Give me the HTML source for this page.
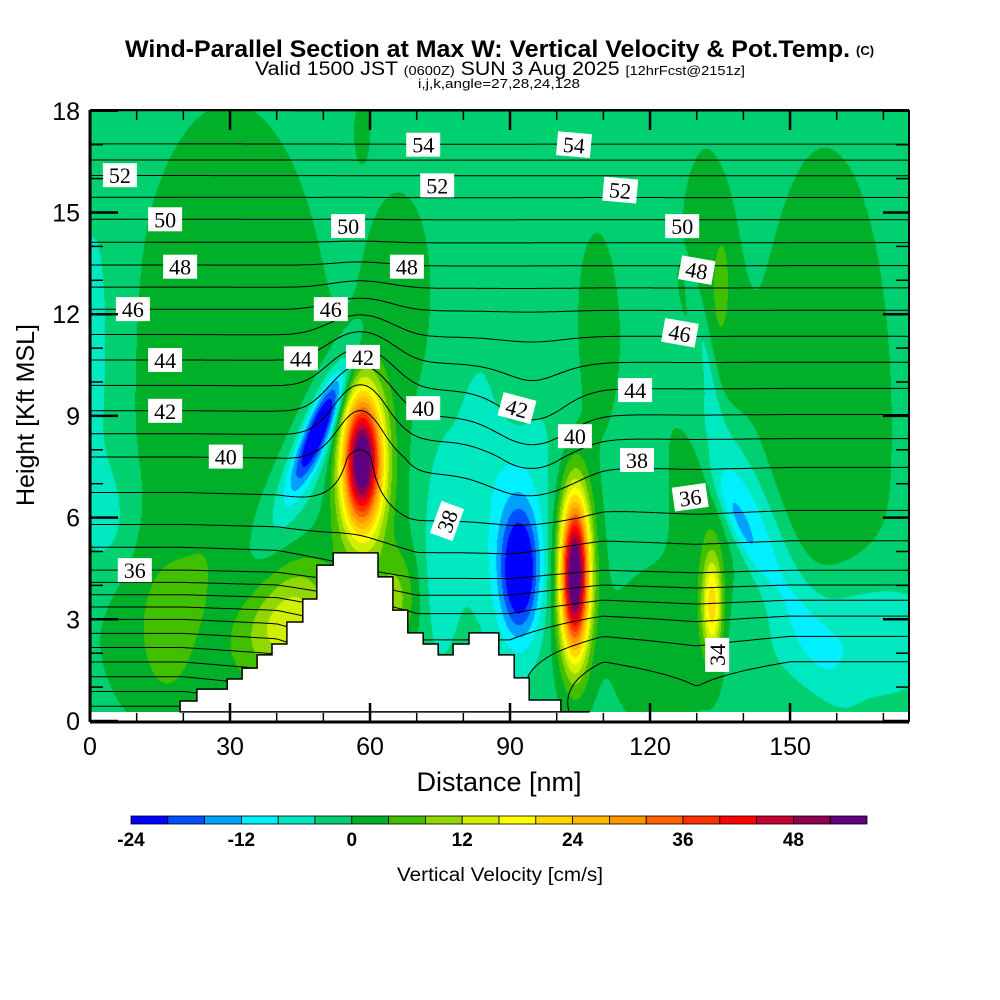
<!DOCTYPE html>
<html><head><meta charset="utf-8">
<style>
html,body{margin:0;padding:0;background:#fff;}
#wrap{position:relative;width:1000px;height:1000px;overflow:hidden;background:#fff;}
#field{position:absolute;left:90px;top:110px;}
#ov{position:absolute;left:0;top:0;}
text{font-family:"Liberation Sans",sans-serif;}
</style></head>
<body>
<div id="wrap">
<canvas id="field" width="819" height="602"></canvas>
<svg id="ov" width="1000" height="1000" xmlns="http://www.w3.org/2000/svg">
<defs><clipPath id="pc"><rect x="90" y="110" width="819" height="602"/></clipPath></defs>
<g id="contours" clip-path="url(#pc)"></g>
<path id="terrain" fill="#fff" stroke="#000" stroke-width="1.5"/>
<g id="clabels"></g>
<g id="axes"></g>
<g>
<text x="125" y="57" font-size="24" font-weight="bold" textLength="725" lengthAdjust="spacingAndGlyphs">Wind-Parallel Section at Max W: Vertical Velocity &amp; Pot.Temp.</text>
<text x="856" y="55" font-size="13" font-weight="bold">(C)</text>
<text x="255" y="75" font-size="19" textLength="490" lengthAdjust="spacingAndGlyphs">Valid 1500 JST <tspan font-size="13">(0600Z)</tspan> SUN 3 Aug 2025 <tspan font-size="13">[12hrFcst@2151z]</tspan></text>
<text x="418" y="88" font-size="13" textLength="162" lengthAdjust="spacingAndGlyphs">i,j,k,angle=27,28,24,128</text>
</g>
<text x="499" y="791" text-anchor="middle" font-size="27">Distance [nm]</text>
<text x="0" y="0" text-anchor="middle" font-size="25" transform="translate(34,415) rotate(-90)">Height [Kft MSL]</text>
<g id="cbar"></g>
<text x="397" y="881" font-size="19" textLength="206" lengthAdjust="spacingAndGlyphs">Vertical Velocity [cm/s]</text>
</svg>
</div>
<script>
// ---- data ----
const colorLevels=[-24,-20,-16,-12,-8,-4,0,4,8,12,16,20,24,28,32,36,40,44,48,52,56];
const colorList=["#0000ff","#0050ff","#00a0ff","#00f0ff","#00e8c0","#00d070","#00b028","#40c000","#90d800","#d0f000","#ffff00","#ffd800","#ffb800","#ff9800","#ff6000","#ff3000","#ff0000","#c80030","#900050","#600080"];
const cbarTicks=[-24,-12,0,12,24,36,48];
const xTicks=[0,30,60,90,120,150];
const yTicks=[0,3,6,9,12,15,18];
const bgValue=-1.5;
// vertical velocity features (nm, kft, sigma along px, sigma across px, angle deg, cm/s)
const blobX  =[30,1.1,66.4,58.3,91.1,108.9,131.8,135.4,157.5,23.6,16.1,4.3,42.9,49.3,58.3,58.9,45,38.6,65.4,75,88.9,92.1,103.9,103.9,133.3,140.3,138.8,131.8,162.8,120];
const blobZ  =[9.47,10.9,12.4,17.4,9.9,11.5,8.9,13.0,8.6,3.0,2.4,5.9,6.5,8.7,7.7,7.1,3.27,2.4,3.57,4.75,6.8,4.4,4.3,4.3,3.4,6.6,5.9,10.9,2.4,2.1];
const blobSA =[70,18,22,5,15,15,25,6,45,80,15,20,90,45,14,26,25,20,15,12,40,14,10,20,7,120,40,50,60,25];
const blobSB =[200,150,70,20,35,70,180,35,190,70,40,40,22,9,48,70,35,30,35,70,110,45,55,75,35,16,8,6,45,50];
const blobAng=[0,0,0,0,0,0,0,0,0,0,0,0,-62,-67,0,0,0,0,0,0,0,0,0,0,0,65,65,80,0,0];
const blobAmp=[4.5,-4,4.5,4,4.5,4.5,4.5,5,4.5,4,4,-4,-6,-26,56,6,10,6,10,-5,-6,-24,58,5,22,-9,-8,-6,-8,5];
// potential temperature
const thetaZ=[0,1,2,3,4.45,6,7.8,9.15,10.65,12.15,13.45,14.8,16.1,17,18.5];
const thetaV=[25,27.3,29.6,32,36,38.3,40,42,44,46,48,50,52,54,55.5];
const warmX=[0,20,40,55,70,90,110,130,150,176];
const warmA=[0,0,1,5,9,9,6,7,6,6];
const thetaLevels=[];for(let t=26;t<=55;t++)thetaLevels.push(t);
// contour labels: value, nm, kft, rotation
const labT=[52,50,48,46,44,42,40,36,54,52,50,48,46,44,42,40,38,42,40,38,36,44,46,48,50,52,54,34];
const labX=[6.4,16.1,19.3,9.2,16.1,16.1,29.1,9.6,71.4,74.4,55.3,67.9,51.6,45.2,58.5,71.4,76.5,91.5,103.9,117.2,128.6,116.8,126.4,130,126.9,113.6,103.7,134.4];
const labZ=[16.1,14.8,13.4,12.15,10.65,9.15,7.8,4.45,17.0,15.8,14.6,13.4,12.15,10.7,10.74,9.23,5.9,9.23,8.4,7.7,6.6,9.76,11.45,13.3,14.6,15.66,17.0,1.95];
const labR=[0,0,0,0,0,0,0,0,0,0,0,0,0,0,0,0,-70,15,0,0,-8,0,10,10,0,5,5,-90];
// terrain steps (start nm, height kft)
const terrStart=[19.3,22.9,29.4,32.6,35.8,39,42.2,45.6,48.6,52.1,61.7,64.9,68.1,71.4,74.6,77.8,81.2,87.6,90.9,94.1,100.9];
const terrH=[0.59,0.94,1.24,1.56,1.95,2.27,2.92,3.6,4.6,4.96,4.25,3.27,2.6,2.27,1.95,2.27,2.6,1.95,1.27,0.62,0.27];

// ---- axis functions ----
const X=nm=>90+nm*4.667;
const Y=k=>721-k*33.9;
const NM=px=>(px-90)/4.667;
const KFT=py=>(721-py)/33.9;
const NS="http://www.w3.org/2000/svg";
function mk(tag,parent){const e=document.createElementNS(NS,tag);parent.appendChild(e);return e;}
function interp(xs,ys,x){if(x<=xs[0])return ys[0];for(let i=1;i<xs.length;i++){if(x<=xs[i]){const f=(x-xs[i-1])/(xs[i]-xs[i-1]);return ys[i-1]+f*(ys[i]-ys[i-1]);}}return ys[ys.length-1];}

// ---- filled field ----
(function(){
 const cv=document.getElementById('field'),ctx=cv.getContext('2d');
 const W=cv.width,H=cv.height,img=ctx.createImageData(W,H);
 const rgb=colorList.map(c=>[parseInt(c.substr(1,2),16),parseInt(c.substr(3,2),16),parseInt(c.substr(5,2),16)]);
 const B=blobX.map((b,i)=>{const a=blobAng[i]*Math.PI/180;return{cx:X(b),cy:Y(blobZ[i]),c:Math.cos(a),s:Math.sin(a),ia:1/(2*blobSA[i]*blobSA[i]),ib:1/(2*blobSB[i]*blobSB[i]),amp:blobAmp[i]};});
 for(let j=0;j<H;j++){const py=110+j+0.5;
  for(let i=0;i<W;i++){const px=90+i+0.5;let v=bgValue;
   for(const b of B){const dx=px-b.cx,dy=py-b.cy;const u=dx*b.c+dy*b.s,w=-dx*b.s+dy*b.c;const e=u*u*b.ia+w*w*b.ib;if(e<12)v+=b.amp*Math.exp(-e);}
   let k=Math.floor((v-colorLevels[0])/4);if(k<0)k=0;if(k>colorList.length-1)k=colorList.length-1;
   const o=(j*W+i)*4;img.data[o]=rgb[k][0];img.data[o+1]=rgb[k][1];img.data[o+2]=rgb[k][2];img.data[o+3]=255;}}
 ctx.putImageData(img,0,0);
})();

// ---- theta contours (marching squares) ----
(function(){
 const g=document.getElementById('contours');
 const step=4,x0=90,y0=110,nx=Math.ceil(819/step)+1,ny=Math.ceil(602/step)+1;
 const F=[];
 for(let j=0;j<ny;j++){F.push([]);for(let i=0;i<nx;i++){const nm=NM(x0+i*step),z=KFT(y0+j*step);
   let t=interp(thetaZ,thetaV,z)+interp(warmX,warmA,nm)*Math.exp(-Math.max(z,0)/2.5);
   t-=2.2*Math.exp(-Math.pow((nm-58)/8,2)-Math.pow((z-9.5)/2.5,2));
   t+=1.2*Math.exp(-Math.pow((nm-95)/10,2)-Math.pow((z-8.5)/2,2));
   F[j].push(t);}}
 for(const L of thetaLevels){let d="";
  for(let j=0;j<ny-1;j++)for(let i=0;i<nx-1;i++){
   const a=F[j][i],b=F[j][i+1],c=F[j+1][i+1],e=F[j+1][i];
   const xa=x0+i*step,ya=y0+j*step,pts=[];
   const ed=(v1,v2,p1x,p1y,p2x,p2y)=>{if((v1<L)!==(v2<L)){const f=(L-v1)/(v2-v1);pts.push([p1x+f*(p2x-p1x),p1y+f*(p2y-p1y)]);}};
   ed(a,b,xa,ya,xa+step,ya);ed(b,c,xa+step,ya,xa+step,ya+step);ed(c,e,xa+step,ya+step,xa,ya+step);ed(e,a,xa,ya+step,xa,ya);
   for(let k=0;k+1<pts.length;k+=2)d+="M"+pts[k][0].toFixed(1)+" "+pts[k][1].toFixed(1)+"L"+pts[k+1][0].toFixed(1)+" "+pts[k+1][1].toFixed(1);}
  if(d){const p=mk('path',g);p.setAttribute('d',d);p.setAttribute('stroke','#000');p.setAttribute('stroke-width','1');p.setAttribute('fill','none');
   
   }}
})();

// ---- terrain ----
(function(){
 let d="M"+X(terrStart[0])+" "+Y(0.27);
 for(let i=0;i<terrStart.length;i++){d+="L"+X(terrStart[i]).toFixed(1)+" "+Y(terrH[i]).toFixed(1);
  const nx=i+1<terrStart.length?terrStart[i+1]:terrStart[i]+6;d+="L"+X(nx).toFixed(1)+" "+Y(terrH[i]).toFixed(1);}
 d+="L"+X(terrStart[terrStart.length-1]+6)+" "+Y(0.27)+"Z";
 document.getElementById('terrain').setAttribute('d',d);
})();

// ---- contour labels ----
(function(){
 const g=document.getElementById('clabels');
 labT.forEach((t,i)=>{const gg=mk('g',g);
  
  
  gg.setAttribute('transform','translate('+X(labX[i]).toFixed(1)+','+Y(labZ[i]).toFixed(1)+') rotate('+labR[i]+')');
  const r=mk('rect',gg);r.setAttribute('x',-17);r.setAttribute('y',-12);r.setAttribute('width',34);r.setAttribute('height',24);r.setAttribute('fill','#fff');
  const tx=mk('text',gg);tx.setAttribute('x',0);tx.setAttribute('y',8);tx.setAttribute('text-anchor','middle');tx.setAttribute('font-size','22');
  tx.setAttribute('style','font-family:"Liberation Serif",serif');tx.textContent=t;});
})();

// ---- axes ----
(function(){
 const g=document.getElementById('axes');
 const line=(x1,y1,x2,y2,w,name)=>{const l=mk('line',g);l.setAttribute('x1',x1);l.setAttribute('y1',y1);l.setAttribute('x2',x2);l.setAttribute('y2',y2);l.setAttribute('stroke','#000');l.setAttribute('stroke-width',w);
  
  };
 line(90,110,909,110,2,'frame-top');line(90,722,909,722,3,'x-axis-line');line(90,110,90,722,3,'y-axis-line');line(909,110,909,722,2,'frame-right');
 for(let v=0;v<=170;v+=10){const maj=xTicks.indexOf(v)>=0;const x=X(v);
  line(x,722,x,722-(maj?19:9),maj?2.5:1.5,'x-tick');line(x,110,x,110+(maj?20:10),maj?2.5:1.5,'x-tick-top');}
 for(let v=0;v<=18;v++){const maj=yTicks.indexOf(v)>=0;const y=Y(v);
  line(90,y,90+(maj?28:13),y,maj?2.5:1.5,'y-tick');line(909,y,909-(maj?26:13),y,maj?2.5:1.5,'y-tick-right');}
 xTicks.forEach(v=>{const t=mk('text',g);t.setAttribute('x',X(v));t.setAttribute('y',755);t.setAttribute('text-anchor','middle');t.setAttribute('font-size','25');t.textContent=v;
  
  });
 yTicks.forEach(v=>{const t=mk('text',g);t.setAttribute('x',80);t.setAttribute('y',Y(v)+9);t.setAttribute('text-anchor','end');t.setAttribute('font-size','25');t.textContent=v;
  
  });
})();

// ---- colorbar ----
(function(){
 const g=document.getElementById('cbar');const x0=131,x1=867,n=colorList.length,w=(x1-x0)/n;
 const CB=v=>x0+(v-colorLevels[0])/4*w;
 colorList.forEach((c,i)=>{const r=mk('rect',g);r.setAttribute('x',CB(colorLevels[i]));r.setAttribute('y',816);r.setAttribute('width',w);r.setAttribute('height',8);r.setAttribute('fill',c);r.setAttribute('stroke','#000');r.setAttribute('stroke-width','0.8');
  
  });
 cbarTicks.forEach(v=>{const t=mk('text',g);t.setAttribute('x',CB(v));t.setAttribute('y',846);t.setAttribute('text-anchor','middle');t.setAttribute('font-size','19');t.setAttribute('font-weight','bold');t.textContent=v;
  
  });
})();
</script>
</body></html>
